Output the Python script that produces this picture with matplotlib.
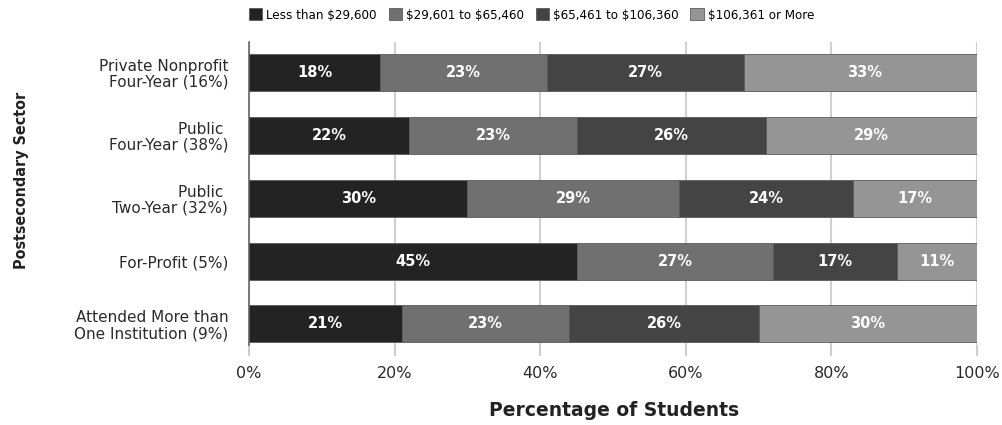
import matplotlib
matplotlib.use("Agg")
import matplotlib.pyplot as plt
import numpy as np

categories = [
    "Private Nonprofit\nFour-Year (16%)",
    "Public \nFour-Year (38%)",
    "Public \nTwo-Year (32%)",
    "For-Profit (5%)",
    "Attended More than\nOne Institution (9%)",
]
series_names = [
    "Less than $29,600",
    "$29,601 to $65,460",
    "$65,461 to $106,360",
    "$106,361 or More",
]
less_29600 = [18, 22, 30, 45, 21]
from_29601_to_65460 = [23, 23, 29, 27, 23]
from_65461_to_106360 = [27, 26, 24, 17, 26]
over_106361 = [33, 29, 17, 11, 30]
x_ticks = [0, 20, 40, 60, 80, 100]
x_tick_labels = ["0%", "20%", "40%", "60%", "80%", "100%"]

series = [less_29600, from_29601_to_65460, from_65461_to_106360, over_106361]
colors = ["#232323", "#707070", "#444444", "#959595"]

plt.rcParams["font.family"] = ["DejaVu Sans"]
plt.rcParams["text.parse_math"] = False

fig = plt.figure(figsize=(10.02, 4.25), dpi=100)
W, H = 1002, 425
ax = fig.add_axes([249 / W, 1 - 345 / H, (977 - 249) / W, (345 - 42) / H])

y = np.arange(len(categories))
left = np.zeros(len(categories))
for vals, name, col in zip(series, series_names, colors):
    vals = np.array(vals, dtype=float)
    bars = ax.barh(y, vals, left=left, height=0.59, color=col, label=name,
                   edgecolor="#5a5a5a", linewidth=0.6, zorder=3)
    for b, v in zip(bars, vals):
        ax.text(b.get_x() + b.get_width() / 2, b.get_y() + b.get_height() / 2,
                f"{int(v)}%", ha="center", va="center", color="white",
                fontsize=10.5, fontweight="bold", zorder=4)
    left += vals

ax.set_xlim(0, 100)
ax.set_ylim(4.335, -0.49)
ax.set_yticks(y)
ax.set_yticklabels(categories, fontsize=11, color="#2a2a2a", linespacing=1.05)
ax.tick_params(axis="y", length=0, pad=15)
ax.set_xticks(x_ticks)
ax.set_xticklabels(x_tick_labels, fontsize=11.5, color="#2a2a2a")
ax.tick_params(axis="x", length=8, width=1.5, color="#cccccc", pad=7)
ax.xaxis.grid(True, color="#d0d0d0", linewidth=1.5, zorder=0)
for s in ["top", "right", "bottom"]:
    ax.spines[s].set_visible(False)
ax.spines["left"].set_color("#666666")
ax.spines["left"].set_linewidth(1.2)

fig.text(614 / W, 1 - 410 / H, "Percentage of Students", ha="center", va="center",
         fontsize=13.5, fontweight="bold", color="#222222")
fig.text(22 / W, 1 - 180 / H, "Postsecondary Sector", ha="center", va="center",
         rotation=90, fontsize=11.5, fontweight="bold", fontstretch="condensed",
         color="#222222")

fig.legend(loc="center left", bbox_to_anchor=(244 / W, 1 - 15 / H), ncol=4,
           frameon=False, prop={"size": 9.5, "stretch": "condensed"},
           handlelength=1.0, handleheight=1.0, handletextpad=0.3,
           columnspacing=0.9, borderaxespad=0)

fig.savefig("out.png", dpi=100)
